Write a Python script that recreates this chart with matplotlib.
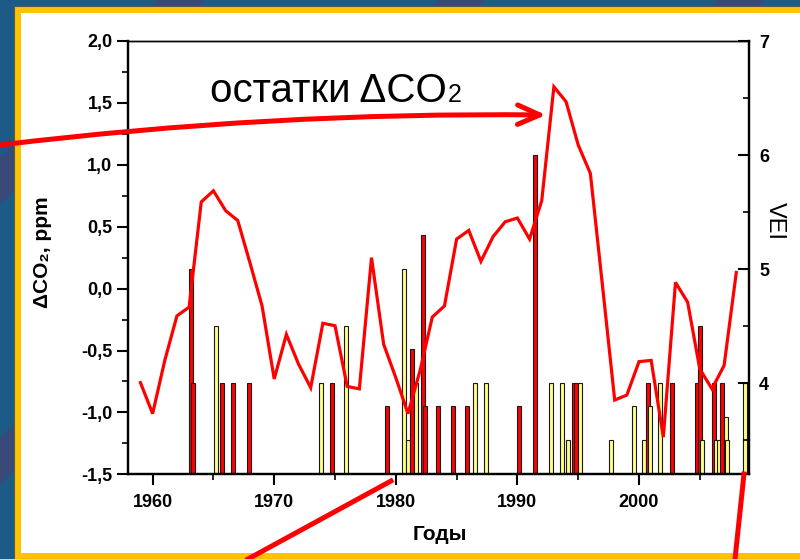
import numpy as np
import matplotlib
matplotlib.use("Agg")
import matplotlib.pyplot as plt
from matplotlib.patches import Rectangle, Polygon, FancyArrowPatch
from matplotlib.lines import Line2D
from matplotlib.ticker import MultipleLocator, FuncFormatter

plt.rcParams['font.family'] = ['Liberation Sans', 'DejaVu Sans']

# остатки ΔCO2 по годам (ppm)
years = list(range(1959, 2009))
resid = [-0.76, -1.01, -0.58, -0.22, -0.15, 0.70, 0.79, 0.63, 0.55, 0.21,
         -0.14, -0.73, -0.37, -0.61, -0.80, -0.28, -0.30, -0.79, -0.81, 0.25,
         -0.45, -0.72, -1.01, -0.66, -0.23, -0.14, 0.40, 0.47, 0.22, 0.42,
         0.54, 0.57, 0.40, 0.71, 1.63, 1.51, 1.16, 0.93, 0.02, -0.90,
         -0.86, -0.59, -0.58, -1.20, 0.05, -0.11, -0.65, -0.81, -0.62, 0.13]

# извержения, VEI (красные и жёлтые столбики)
red_years = [1963.15, 1963.35, 1965.7, 1966.6, 1967.95, 1974.75, 1979.25, 1981.35,
             1982.2, 1982.4, 1983.5, 1984.7, 1985.85, 1990.15, 1991.45, 1994.65,
             1994.85, 2000.7, 2002.75, 2004.8, 2005.0, 2006.15, 2006.8]
red_vei = [5.0, 4.0, 4.0, 4.0, 4.0, 4.0, 3.8, 4.3,
           5.3, 3.8, 3.8, 3.8, 3.8, 3.8, 6.0, 4.0,
           4.0, 4.0, 4.0, 4.0, 4.5, 4.0, 4.0]
yellow_years = [1965.2, 1973.85, 1975.9, 1980.65, 1981.0, 1981.65, 1986.5, 1987.45,
                1992.8, 1993.65, 1994.15, 1995.15, 1997.7, 1999.6, 2000.4, 2000.9,
                2001.7, 2005.2, 2006.3, 2006.6, 2007.15, 2007.25, 2008.75, 2008.75]
yellow_vei = [4.5, 4.0, 4.5, 5.0, 3.5, 4.0, 4.0, 4.0,
              4.0, 4.0, 3.5, 4.0, 3.5, 3.8, 3.5, 3.8,
              4.0, 3.5, 3.5, 3.5, 3.7, 3.5, 4.0, 3.5]

x_ticks = [1960, 1970, 1980, 1990, 2000]

W, H = 800, 559


def fx(x):
    return x / W


def fy(y):
    return 1 - y / H


fig = plt.figure(figsize=(8, 5.59), dpi=100)

# фон слайда
fig.patches.append(Rectangle((0, 0), 1, 1, transform=fig.transFigure,
                             color='#1d5b87', zorder=-20))
for o in [-400, -120, 160, 440, 720]:
    pts = [(fx(o), fy(559)), (fx(o + 45), fy(559)),
           (fx(o + 45 + 559), fy(0)), (fx(o + 559), fy(0))]
    fig.patches.append(Polygon(pts, closed=True, transform=fig.transFigure,
                               color='#3a4a78', zorder=-19))
fig.patches.append(Rectangle((fx(14), fy(559)), 1, fy(6) - fy(559),
                             transform=fig.transFigure, facecolor='#fdc300',
                             edgecolor='#5a5a5a', lw=0.8, zorder=-18))
fig.patches.append(Rectangle((fx(21), fy(553)), 1, fy(13) - fy(553),
                             transform=fig.transFigure, facecolor='white',
                             edgecolor='none', zorder=-17))

ax = fig.add_axes([127.7 / W, (H - 474.3) / H, 621.6 / W, 433.3 / H])
ax2 = ax.twinx()
ax.set_zorder(2)
ax.patch.set_visible(False)

# столбики VEI
bars = sorted([(y, v, '#ff0000') for y, v in zip(red_years, red_vei)] +
              [(y, v, '#ffff88') for y, v in zip(yellow_years, yellow_vei)])
for y, v, c in bars:
    ax2.bar(y, v, width=0.33, color=c, edgecolor='#1a1a1a', linewidth=0.8)

ax.plot(years, resid, color='#ff0000', lw=2.3, solid_joinstyle='miter')

ax.set_xlim(1957.95, 2009.07)
ax.set_ylim(-1.5, 2.0)
ax2.set_ylim(3.2, 7.0)

ax.set_xticks(x_ticks)
ax.xaxis.set_minor_locator(MultipleLocator(5))
ax.yaxis.set_major_locator(MultipleLocator(0.5))
ax.yaxis.set_minor_locator(MultipleLocator(0.25))
ax.yaxis.set_major_formatter(FuncFormatter(lambda v, p: f"{v:.1f}".replace('.', ',')))
ax2.yaxis.set_major_locator(MultipleLocator(1))
ax2.yaxis.set_minor_locator(MultipleLocator(0.5))

for a in (ax, ax2):
    for s in ['left', 'right', 'bottom']:
        a.spines[s].set_linewidth(1.6)
    a.spines['top'].set_linewidth(1.0)

ax.tick_params(axis='y', which='major', direction='out', length=8, width=1.5,
               pad=3, labelsize=13)
ax.tick_params(axis='y', which='minor', direction='out', length=4, width=1.2)
ax.tick_params(axis='x', which='major', direction='out', length=8, width=1.5,
               pad=6, labelsize=13)
ax.tick_params(axis='x', which='minor', direction='out', length=4, width=1.2)
ax2.tick_params(axis='y', which='major', direction='in', length=8, width=1.5,
                pad=7, labelsize=13)
ax2.tick_params(axis='y', which='minor', direction='in', length=4, width=1.2)

for lab in ax.get_xticklabels() + ax.get_yticklabels() + ax2.get_yticklabels():
    lab.set_fontweight('bold')

fig.text(fx(43), fy(252), 'ΔCO₂, ppm', rotation=90, ha='center', va='center',
         fontsize=15, fontweight='bold')
fig.text(fx(775), fy(221), 'VEI', rotation=-90, ha='center', va='center',
         fontsize=17)
fig.text(fx(440), fy(534), 'Годы', ha='center', va='center',
         fontsize=15, fontweight='bold')

t = fig.text(fx(210), fy(102), 'остатки ΔCO', fontsize=29, va='baseline')
fig.canvas.draw()
bb = t.get_window_extent()
fig.text(bb.x1 / W + 1 / W, fy(102), '2', fontsize=18, va='baseline')

# красные стрелки со слайда
fig.patches.append(FancyArrowPatch(posA=(fx(0), fy(145)), posB=(fx(546), fy(115)),
                                   transform=fig.transFigure,
                                   connectionstyle='arc3,rad=-0.033',
                                   arrowstyle='->,head_length=16,head_width=7',
                                   mutation_scale=1, lw=3.6, color='#ff0000',
                                   shrinkA=0, shrinkB=0, zorder=10))
fig.lines.append(Line2D([fx(248), fx(391)], [fy(559), fy(481)],
                        transform=fig.transFigure, color='#ff0000', lw=3.6,
                        zorder=10))
fig.lines.append(Line2D([fx(735), fx(744)], [fy(559), fy(474)],
                        transform=fig.transFigure, color='#ff0000', lw=3.6,
                        zorder=10))

fig.savefig('out.png', dpi=100)
